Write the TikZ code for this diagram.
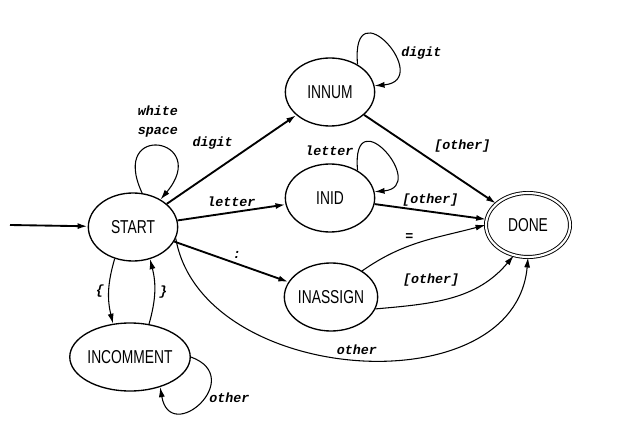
\documentclass[tikz,border=0pt]{standalone}
\usepackage{fontspec}
\usetikzlibrary{shapes.geometric,arrows.meta}
\newfontfamily\statefont{Liberation Sans}[FakeStretch=0.74]
\newfontfamily\lblfont{Liberation Mono}
\begin{document}
\begin{tikzpicture}[x=0.75pt,y=0.75pt,
state/.style={ellipse,draw,line width=1pt,minimum width=67pt,minimum height=51pt,inner sep=0pt,font=\statefont\fontsize{14}{16}\selectfont},
accept/.style={state,double,double distance=1.6pt,line width=0.7pt,minimum width=63pt,minimum height=48pt},
lbl/.style={font=\lblfont\bfseries\itshape\fontsize{10}{14}\selectfont},
trans/.style={-{Latex[length=7.5pt,width=4.5pt]},line width=1.4pt},
curv/.style={-{Latex[length=7.5pt,width=4.5pt]},line width=0.8pt}]
\useasboundingbox (0,0) rectangle (624,432);
\node (start) at (133,205)[state]{START};
\node (innum) at (330,340)[state]{INNUM};
\node (inid) at (330,234)[state]{INID};
\node (inassign) at (331,135)[state]{INASSIGN};
\node (done) at (528,207)[accept]{DONE};
\node (incomment) at (130,75)[state]{INCOMMENT};
\coordinate (entry) at (10,207);
\draw[trans](entry) -- (start);
\draw[curv](start.75) .. controls +(115:80) and +(50:80) .. (start.45)node[pos=0.5,above=3pt,lbl,align=center]{white\\space};
\draw[trans](start) -- (innum)node[pos=0.55,above left,lbl]{digit};
\draw[trans](start) -- (inid)node[pos=0.5,above,lbl]{letter};
\draw[trans](start) -- (inassign)node[pos=0.55,above,lbl]{:};
\draw[curv](innum.45) .. controls +(95:80) and +(5:60) .. (innum.8)node[pos=0.6,right=3pt,lbl]{digit};
\draw[curv](inid.45) .. controls +(95:75) and +(5:55) .. (inid.8)node[pos=0.12,left,lbl]{letter};
\draw[trans](innum) -- (done)node[pos=0.35,right=14pt,lbl]{[other]};
\draw[trans](inid) -- (done)node[pos=0.5,above,lbl]{[other]};
\draw[curv](inassign.40) to[out=35,in=195]node[pos=0.4,above,lbl]{=} (done.180);
\draw[curv](inassign.-15) to[out=5,in=230]node[pos=0.35,above=8pt,lbl]{[other]} (done.245);
\draw[curv](start.-15) .. controls +(-80:150) and +(-95:150) .. (done.-90)node[pos=0.5,above,lbl]{other};
\draw[curv](start.240) to[bend right=15]node[left,lbl]{\{} (incomment.117);
\draw[curv](incomment.60) to[bend right=15]node[right,lbl]{\}} (start.298);
\draw[curv](incomment.0) .. controls +(-20:60) and +(-80:60) .. (incomment.-45)node[pos=0.45,right,lbl]{other};
\end{tikzpicture}
\end{document}
